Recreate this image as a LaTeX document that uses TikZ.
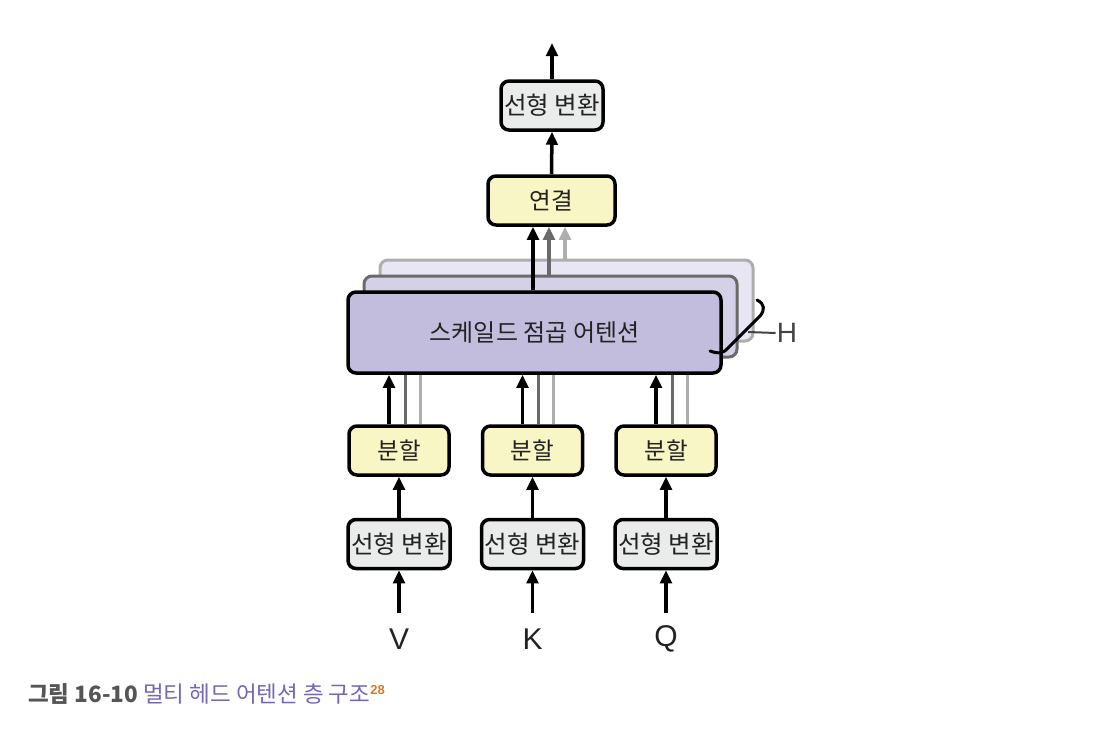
\documentclass[tikz,border=0pt]{standalone}
\usepackage{fontspec}
\setmainfont{Liberation Sans}
\newfontfamily\kr{Noto Sans CJK KR}
\usetikzlibrary{arrows.meta,calc}
\definecolor{linfill}{HTML}{E9ECEB}
\definecolor{yelfill}{HTML}{F8F6C5}
\definecolor{attfill}{HTML}{C3BDDD}
\definecolor{attfillb}{HTML}{D3D0E7}
\definecolor{attfillc}{HTML}{E8E6F2}
\definecolor{midgray}{HTML}{6A6A6A}
\definecolor{ltgray}{HTML}{AEAEAE}
\definecolor{txt}{HTML}{222222}
\definecolor{hgray}{HTML}{444444}
\definecolor{capgray}{HTML}{555555}
\definecolor{cappurple}{HTML}{7468B4}
\definecolor{caporange}{HTML}{D97A2B}
\begin{document}
\begin{tikzpicture}[x=1pt,y=-1pt,
  box/.style={draw=black, line width=3.5pt, rounded corners=8pt, inner sep=0pt,
    font=\kr\fontsize{23.5}{26}\selectfont, text=txt},
  lin/.style={box, fill=linfill, minimum width=102pt, minimum height=49pt,
    font=\kr\fontsize{24.5}{26}\selectfont},
  yel/.style={box, fill=yelfill, minimum width=100pt, minimum height=49pt},
  attbox/.style={box, minimum width=373pt, minimum height=81pt},
  arr/.style={line width=3.5pt, -{Triangle[length=13pt,width=11.5pt]}},
  garr/.style={arr, draw=midgray, -{Triangle[length=13pt,width=11.5pt,fill=midgray]}},
  larr/.style={arr, draw=ltgray, -{Triangle[length=13pt,width=11.5pt,fill=ltgray]}},
  letter/.style={font=\fontsize{30}{30}\selectfont, text=txt, inner sep=1pt},
]
\useasboundingbox (0,0) rectangle (1110,734);

% back attention boxes
\node[attbox, draw=ltgray, line width=3pt, fill=attfillc] (att3) at (566.5,300.5) {};
\node[attbox, draw=midgray, line width=3pt, fill=attfillb] (att2) at (550.5,316.5) {};

% boxes
\node[lin] (lout) at (552,105.5) {선형 변환};
\node[yel, minimum width=127pt] (cat) at (551.5,200.5) {연결};

\foreach \n/\x in {V/399,K/532.5,Q/666}{
  \node[yel] (s\n) at (\x,450.5) {분할};
  \node[lin] (l\n) at (\x,544) {선형 변환};
  \coordinate (in\n) at (\x,613);
  \node[letter] (t\n) at (\x,639) {\n};
  \draw[arr] (in\n) -- (l\n.south);
  \draw[arr] (l\n.north) -- (s\n.south);
  \draw[line width=3pt, draw=ltgray] ([xshift=21pt]s\n.north) -- ([xshift=21pt]s\n.north |- att3.south);
  \draw[line width=3pt, draw=midgray] ([xshift=6pt]s\n.north) -- ([xshift=6pt]s\n.north |- att2.south);
}

% arrows from back boxes to concat
\draw[larr] ([xshift=-1.5pt]att3.north) -- ([xshift=-1.5pt]att3.north |- cat.south);
\draw[garr] ([xshift=-1.5pt]att2.north) -- ([xshift=-1.5pt]att2.north |- cat.south);

% main attention box
\node[attbox, fill=attfill, font=\kr\fontsize{24}{26}\selectfont] (att) at (534.5,332.5) {스케일드 점곱 어텐션};

\foreach \n in {V,K,Q}{
  \draw[arr] ([xshift=-10pt]s\n.north) -- ([xshift=-10pt]s\n.north |- att.south);
}
\draw[arr] ([xshift=-1.5pt]att.north) -- ([xshift=-1.5pt]att.north |- cat.south);
\draw[arr] (cat.north) -- (lout.south);
\coordinate (out) at (552,43);
\draw[arr] (lout.north) -- (out);

% H marker
\draw[line width=3pt, line cap=round] (757,300) .. controls (765,304) and (765,310) .. (760,316)
  -- (728,348) .. controls (722,355) and (716,353) .. (710,351);
\node[letter, text=hgray, font=\fontsize{28}{28}\selectfont] (H) at (787,333) {H};
\draw[line width=2pt, draw=hgray] (748,332) -- (H.west);

% caption
\node[anchor=west, inner sep=0pt] (cap) at (28,694)
  {\kr\fontsize{22.5}{26}\selectfont{\bfseries\color{capgray}그림 16-10} {\color{cappurple}멀티 헤드 어텐션 층 구조}\raisebox{8pt}{\rmfamily\bfseries\fontsize{13}{13}\selectfont\color{caporange}28}};
\end{tikzpicture}
\end{document}
